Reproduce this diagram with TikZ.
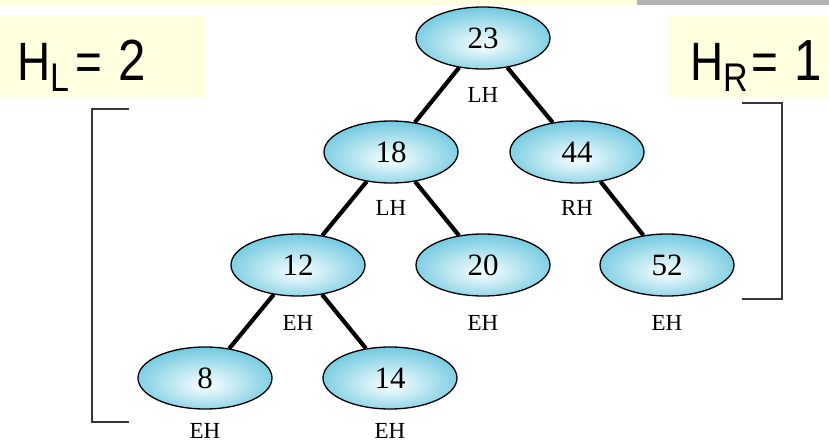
\documentclass[tikz,border=0pt]{standalone}
\usepackage{fontspec}
\setmainfont{Liberation Serif}
\newfontfamily\hfont[FakeStretch=0.85]{Liberation Sans}
\usetikzlibrary{shapes.geometric}

\definecolor{paleyellow}{RGB}{255,255,224}
\definecolor{bandgray}{RGB}{178,178,178}
\definecolor{bubin}{RGB}{236,250,252}
\definecolor{bubout}{RGB}{86,190,218}
\definecolor{bracketgray}{RGB}{55,55,55}

% soft highlight a little below the centre of each key bubble
\pgfdeclareradialshading{bubble}{\pgfpoint{0bp}{-6bp}}{%
  color(0bp)=(bubin); color(3bp)=(bubin); color(34bp)=(bubout); color(60bp)=(bubout)}

\tikzset{
  key/.style={ellipse, draw=black, line width=1.3pt, shading=bubble,
    minimum width=134pt, minimum height=62pt, inner sep=0pt,
    font=\fontsize{31}{31}\selectfont},
  bal/.style={anchor=base, inner sep=0pt, font=\fontsize{23}{23}\selectfont},
  link/.style={line width=4.2pt, black},
  bracket/.style={line width=2pt, bracketgray},
  heading/.style={anchor=base west, inner sep=0pt,
    font=\hfont\fontsize{54}{54}\selectfont}
}

\begin{document}
\begin{tikzpicture}[x=1pt,y=-1pt]
\useasboundingbox (0,0) rectangle (829,443);
\fill[white] (0,0) rectangle (829,443);

% banners along the top and behind the height labels
\fill[paleyellow] (0,0) rectangle (637,5);
\fill[bandgray] (637,0) rectangle (829,5);
\fill[paleyellow] (0,15) rectangle (205,98);
\fill[paleyellow] (669,15) rectangle (829,98);

\node[heading] (hl) at (17,81)
  {H\raisebox{-11pt}{\fontsize{40}{40}\selectfont L}\kern6pt=\kern16pt{\fontsize{58}{58}\selectfont 2}};
\node[heading] (hr) at (690,81)
  {H\raisebox{-11pt}{\fontsize{40}{40}\selectfont R}\kern4pt=\kern16pt{\fontsize{58}{58}\selectfont 1}};

% subtree brackets
\draw[bracket] (129,109) -- (92,109) -- (92,422) -- (129,422);
\draw[bracket] (742,103) -- (782,103) -- (782,299) -- (742,299);

% keys
\node[key] (n23) at (483,38)  {23};
\node[key] (n18) at (391,152) {18};
\node[key] (n44) at (577,152) {44};
\node[key] (n12) at (298,265) {12};
\node[key] (n20) at (483,265) {20};
\node[key] (n52) at (667,265) {52};
\node[key] (n8)  at (205,378) {8};
\node[key] (n14) at (390,378) {14};

% balance factors
\node[bal] (b23) at (483,103) {LH};
\node[bal] (b18) at (391,216) {LH};
\node[bal] (b44) at (577,216) {RH};
\node[bal] (b12) at (298,330) {EH};
\node[bal] (b20) at (483,330) {EH};
\node[bal] (b52) at (667,330) {EH};
\node[bal] (b8)  at (205,438) {EH};
\node[bal] (b14) at (390,438) {EH};

% tree links
\draw[link] (n23) -- (n18);
\draw[link] (n23) -- (n44);
\draw[link] (n18) -- (n12);
\draw[link] (n18) -- (n20);
\draw[link] (n44) -- (n52);
\draw[link] (n12) -- (n8);
\draw[link] (n12) -- (n14);
\end{tikzpicture}
\end{document}
